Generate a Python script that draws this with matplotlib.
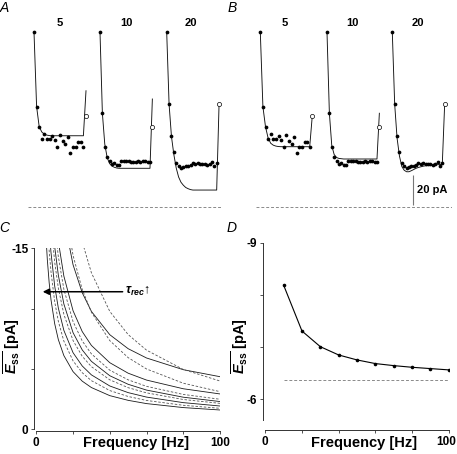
import matplotlib
matplotlib.use('Agg')
import matplotlib.pyplot as plt
import matplotlib.transforms as mtransforms
import numpy as np

plt.rcParams['font.family'] = ['Liberation Sans', 'DejaVu Sans']
plt.rcParams['font.weight'] = 'bold'
plt.rcParams['axes.labelweight'] = 'bold'
plt.rcParams['mathtext.fontset'] = 'custom'
plt.rcParams['mathtext.rm'] = 'Liberation Sans:bold'
plt.rcParams['mathtext.it'] = 'Liberation Sans:italic:bold'
plt.rcParams['mathtext.bf'] = 'Liberation Sans:bold'

# ---------------- data: panels A & B (EPSC amplitudes, pA) ----------------
freq_labels = ['5', '10', '20']
dots_5 = [-116.7, -66.9, -53.5, -45.1, -48.7, -45.1, -45.1, -47.3, -44.7, -40.2,
          -48.0, -44.0, -41.8, -46.9, -35.8, -40.2, -40.2, -43.5, -43.1, -40.2]
test_5 = -60.9
dots_10 = [-116.5, -62.5, -39.8, -33.3, -30.9, -28.9, -29.1, -28.2, -28.2, -30.9, -30.9,
           -30.7, -30.9, -29.8, -30.2, -30.2, -30.7, -30.2, -30.9, -30.5, -30.0, -30.0]
test_10 = -53.5
dots_20 = [-116.5, -68.5, -47.3, -36.9, -29.1, -27.3, -26.2, -26.7, -27.3, -27.5, -28.0,
           -29.3, -28.9, -29.3, -28.7, -28.9, -28.5, -27.8, -28.7, -29.8, -27.5, -29.5]
test_20 = -68.5

# model fits (last value = recovery test point)
modelA_5 = [-116.7, -66.9, -53.5, -50.0, -48.5, -47.9, -47.6] + [-47.5] * 13 + [-77.5]
modelA_10 = [-116.5, -62.5, -42.0, -33.0, -29.0, -27.3, -26.5, -26.0] + [-25.8] * 14 + [-72.0]
modelA_20 = [-116.5, -68.5, -47.0, -35.0, -26.0, -20.0, -16.5, -14.5, -13.0, -12.2, -11.6] + [-11.3] * 11 + [-68.5]
modelB_5 = [-116.7, -66.9, -53.5, -46.0, -42.5, -41.2, -40.6, -40.3] + [-40.2] * 12 + [-60.9]
modelB_10 = [-116.5, -62.5, -41.0, -35.0, -33.0, -32.4, -32.2] + [-32.0] * 15 + [-62.5]
modelB_20 = [-116.5, -68.5, -46.0, -34.0, -27.0, -24.5, -23.5, -23.5, -24.2, -25.0, -25.8,
             -26.4, -26.8, -27.2, -27.5, -27.7, -27.9, -28.0, -28.1, -28.2, -28.3, -28.4, -68.5]
scale_pA = 20

# ---------------- data: panel C ----------------
freq_C = [5, 6, 7, 8, 10, 12, 15, 20, 25, 30, 40, 50, 60, 80, 100]
solid_C = [
    [-16.7, -14.06, -12.16, -10.74, -8.76, -7.43, -6.11, -4.78, -3.99, -3.46, -2.79, -2.40, -2.13, -1.80, -1.60],
    [-22.9, -19.26, -16.62, -14.65, -11.88, -10.04, -8.20, -6.35, -5.25, -4.51, -3.59, -3.04, -2.67, -2.21, -1.93],
    [-29.4, -24.65, -21.26, -18.71, -15.14, -12.77, -10.39, -8.01, -6.58, -5.63, -4.44, -3.73, -3.25, -2.66, -2.30],
    [-35.7, -29.94, -25.84, -22.76, -18.45, -15.57, -12.70, -9.83, -8.10, -6.95, -5.52, -4.65, -4.08, -3.36, -2.93],
    [-48.4, -40.7, -35.2, -31.0, -25.24, -21.37, -17.51, -13.64, -11.32, -9.77, -7.84, -6.68, -5.91, -4.94, -4.36],
]
dashed_C = [
    [-20.4, -17.14, -14.8, -13.05, -10.59, -8.95, -7.31, -5.67, -4.69, -4.03, -3.21, -2.72, -2.39, -1.99, -1.74],
    [-26.9, -22.55, -19.45, -17.12, -13.87, -11.70, -9.53, -7.36, -6.05, -5.19, -4.10, -3.45, -3.02, -2.47, -2.15],
    [-33.1, -27.71, -23.88, -21.0, -16.98, -14.30, -11.61, -8.93, -7.32, -6.25, -4.90, -4.10, -3.56, -2.89, -2.49],
    [-56.7, -47.3, -40.6, -35.6, -28.5, -23.8, -19.11, -14.41, -11.59, -9.70, -7.35, -5.94, -5.00, -3.82, -3.12],
    [-77.1, -64.3, -55.1, -48.2, -38.6, -32.2, -25.8, -19.38, -15.54, -12.97, -9.77, -7.85, -6.56, -4.96, -4.00],
]

# ---------------- data: panel D ----------------
freq_D = [10, 20, 30, 40, 50, 60, 70, 80, 90, 100]
ess_D = [-8.185, -7.306, -7.006, -6.847, -6.752, -6.682, -6.643, -6.611, -6.586, -6.561]
ess_D_ref = -6.37

# ---------------- layout ----------------
W, H = 457, 454
fig = plt.figure(figsize=(W / 100, H / 100), dpi=100)


def box(x0, y0, x1, y1):
    return fig.add_axes([x0 / W, 1 - y1 / H, (x1 - x0) / W, (y1 - y0) / H])


def ftxt(x, y, s, **kw):
    fig.text(x / W, 1 - y / H, s, **kw)


TR_TOP, TR_BOT = 20, 212
BASE_PX, PX_PER_PA = 207, 1.5
ylim_tr = ((TR_BOT - BASE_PX) / PX_PER_PA, -(BASE_PX - TR_TOP) / PX_PER_PA)
DASH_COL = '#8a8a8a'


def trace(x_first, spacing, dots, model, test):
    n = len(dots)
    ax = box(x_first, TR_TOP, x_first + spacing * n, TR_BOT)
    ax.set_xlim(0, n)
    ax.set_ylim(*ylim_tr)
    ax.axis('off')
    ax.plot(np.arange(len(model)), model, color='#111111', lw=0.65, clip_on=False, zorder=1)
    ax.plot(np.arange(n), dots, 'o', color='k', ms=2.7, mew=0, clip_on=False, zorder=2)
    ax.plot([n], [test], 'o', mfc='white', mec='k', ms=3.0, mew=0.5, clip_on=False, zorder=3)


# baselines and scale bar
for (x0, x1) in [(28, 222), (256, 452)]:
    axb = box(x0, TR_TOP, x1, TR_BOT)
    axb.set_xlim(0, 1)
    axb.set_ylim(*ylim_tr)
    axb.axis('off')
    axb.axhline(0, color=DASH_COL, lw=0.7, ls=(0, (3, 2)))
    if x0 == 256:
        xs = (413 - x0) / (x1 - x0)
        axb.vlines(xs, -1.3, -1.3 - scale_pA, color='#777777', lw=0.8)

# panel A traces
trace(34.0, 2.6, dots_5, modelA_5, test_5)
trace(100.0, 2.38, dots_10, modelA_10, test_10)
trace(166.7, 2.38, dots_20, modelA_20, test_20)
# panel B traces
trace(260.3, 2.6, dots_5, modelB_5, test_5)
trace(327.0, 2.38, dots_10, modelB_10, test_10)
trace(392.3, 2.38, dots_20, modelB_20, test_20)

for lab, xa, xb in zip(freq_labels, [60, 126, 191], [285, 352, 418]):
    ftxt(xa, 23, lab, ha='center', va='center', fontsize=8, weight='bold')
    ftxt(xb, 23, lab, ha='center', va='center', fontsize=8, weight='bold')
ftxt(417, 190, f'{scale_pA} pA', ha='left', va='center', fontsize=8, weight='bold')

for lab, x, y in [('A', 4, 8), ('B', 232, 8), ('C', 4, 228), ('D', 232, 228)]:
    ftxt(x, y, lab, ha='center', va='center', fontsize=10, style='italic', weight='normal')

ylab = r'$\overline{E_{\mathrm{ss}}}$ [pA]'


def style_axes(ax, left_out, bottom_out):
    for s in ['top', 'right']:
        ax.spines[s].set_visible(False)
    for s in ['left', 'bottom']:
        ax.spines[s].set_linewidth(0.7)
        ax.spines[s].set_color('#333333')
    ax.spines['left'].set_position(('outward', left_out))
    ax.spines['bottom'].set_position(('outward', bottom_out))
    ax.tick_params(direction='out', length=2.5, width=0.6, color='#333333', labelsize=8.5, pad=1.8)


def bold_ticks(ax):
    for t in ax.get_xticklabels() + ax.get_yticklabels():
        t.set_fontweight('bold')


# ---------------- panel C ----------------
axC = box(36.3, 248.3, 220, 429.3)
axC.set_xlim(0, 100)
axC.set_ylim(0, -15)
for curve in solid_C:
    axC.plot(freq_C, curve, color='#1a1a1a', lw=0.6)
for curve in dashed_C:
    axC.plot(freq_C, curve, color='#555555', lw=0.6, ls=(0, (3, 2)))
style_axes(axC, 1.4, 1.0)
axC.set_xticks([0, 20, 40, 60, 80, 100])
axC.set_xticklabels(['0', '', '', '', '', '100'])
axC.set_yticks([0, -5, -10, -15])
axC.set_yticklabels(['0', '', '', '-15'])
bold_ticks(axC)
axC.set_xlabel('Frequency [Hz]', fontsize=10.5, fontweight='bold')
axC.xaxis.set_label_coords(0.542, -0.0757)
axC.xaxis.label.set_va('center')
axC.set_ylabel(ylab, fontsize=10.5, fontweight='bold')
axC.yaxis.set_label_coords(-0.132, 0.461)
axC.yaxis.label.set_va('center')
axC.annotate('', xy=(3.5, -11.4), xytext=(47, -11.4),
             arrowprops=dict(arrowstyle='-|>', color='k', lw=1.1, mutation_scale=9,
                             shrinkA=0, shrinkB=0))
axC.text(48.5, -11.4, r'$\tau_{rec}$' + '\u2191', ha='left', va='center', fontsize=9)

# ---------------- panel D ----------------
axD = box(265.3, 242.7, 448.7, 420)
axD.set_xlim(0, 100)
axD.set_ylim(-5.6, -9)
axD.plot(freq_D, ess_D, '-o', color='k', lw=0.8, ms=2.6, mew=0)
axD.plot([freq_D[0], freq_D[-1]], [ess_D_ref, ess_D_ref], color=DASH_COL, lw=0.7, ls=(0, (3, 2)))
style_axes(axD, 1.7, 7.2)
axD.set_xticks([0, 20, 40, 60, 80, 100])
axD.set_xticklabels(['0', '', '', '', '', '100'])
axD.set_yticks([-9, -8, -7, -6])
axD.set_yticklabels(['-9', '', '', '-6'])
bold_ticks(axD)
# nudge the right-most tick label so it stays inside the figure
shift = mtransforms.ScaledTranslation(-3 / 100, 0, fig.dpi_scale_trans)
last = axD.get_xticklabels()[-1]
last.set_transform(last.get_transform() + shift)
axD.set_xlabel('Frequency [Hz]', fontsize=10.5, fontweight='bold')
axD.xaxis.set_label_coords(0.537, -0.13)
axD.xaxis.label.set_va('center')
axD.set_ylabel(ylab, fontsize=10.5, fontweight='bold')
axD.yaxis.set_label_coords(-0.14, 0.418)
axD.yaxis.label.set_va('center')

fig.savefig('out.png', dpi=100)
